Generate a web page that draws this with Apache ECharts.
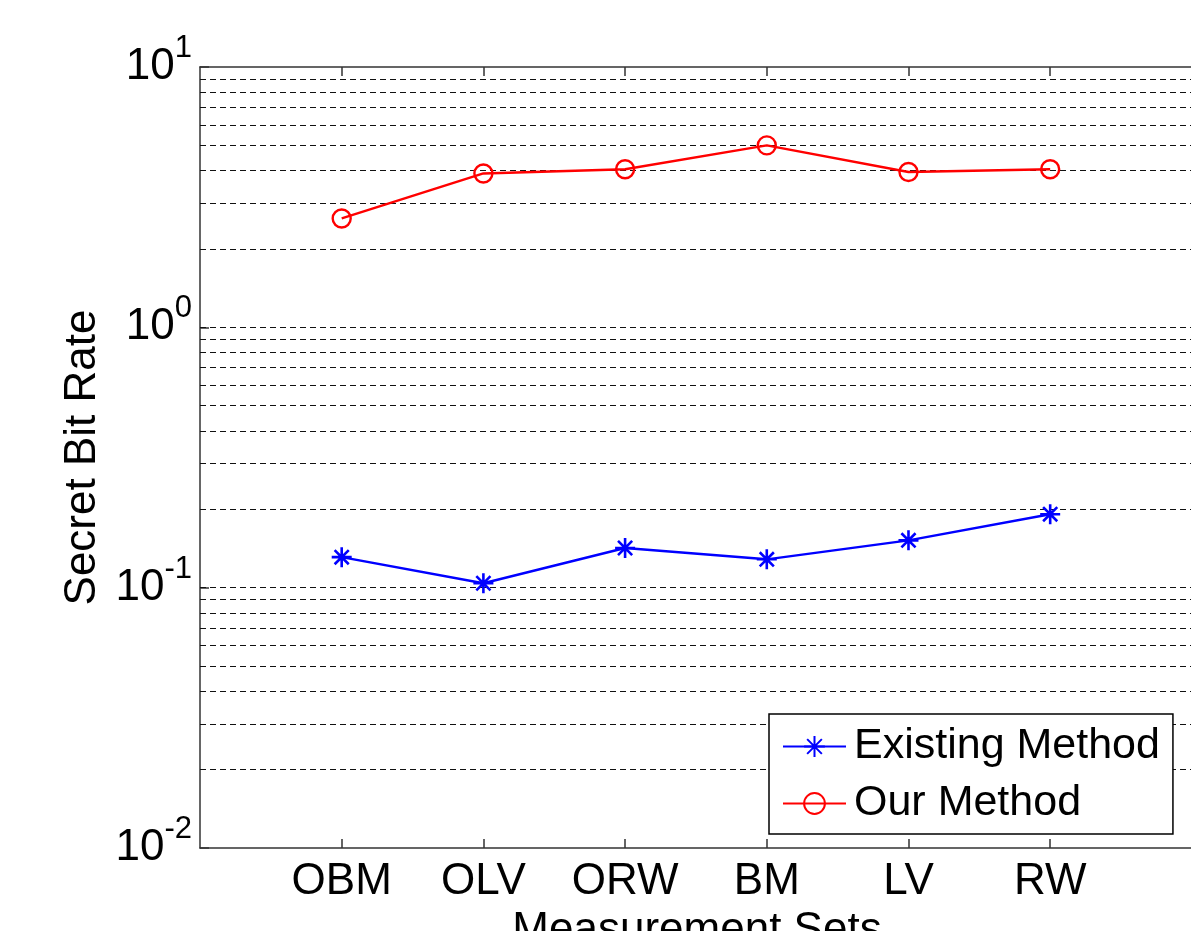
<!DOCTYPE html>
<html>
<head>
<meta charset="utf-8">
<script src="https://cdn.jsdelivr.net/npm/echarts@6/dist/echarts.min.js"></script>
<style>
html,body{margin:0;padding:0;background:#fff;}
#chart{width:1191px;height:931px;}
</style>
</head>
<body>
<div id="chart"></div>
<script>
// ---- data ----
const categories = ['OBM', 'OLV', 'ORW', 'BM', 'LV', 'RW'];
const existingMethod = [0.131, 0.104, 0.142, 0.1285, 0.152, 0.1915];
const ourMethod = [2.62, 3.90, 4.05, 5.00, 3.95, 4.05];
const yTickValues = [0.01, 0.1, 1, 10];
const yTickExponents = ['-2', '-1', '0', '1'];
const gridValues = [0.02, 0.03, 0.04, 0.05, 0.06, 0.07, 0.08, 0.09,
                    0.1, 0.2, 0.3, 0.4, 0.5, 0.6, 0.7, 0.8, 0.9,
                    1, 2, 3, 4, 5, 6, 7, 8, 9];
const seriesNames = ['Existing Method', 'Our Method'];

const FONT = 'Liberation Sans, Arial, Helvetica, sans-serif';
const positions = categories.map((c, i) => i + 1);
const toPairs = arr => arr.map((v, i) => [positions[i], v]);

const asterisk = 'path://M10,0L10,20M0,10L20,10M2.93,2.93L17.07,17.07M2.93,17.07L17.07,2.93';

const chart = echarts.init(document.getElementById('chart'), null, {renderer: 'canvas'});

const option = {
  backgroundColor: '#ffffff',
  animation: false,
  grid: {left: 200, top: 67, width: 994, bottom: 83, containLabel: false, outerBoundsMode: 'none'},
  legend: {
    orient: 'vertical',
    left: 769,
    top: 714,
    padding: [11, 13, 9, 13],
    itemWidth: 63,
    itemHeight: 26,
    itemGap: 14,
    borderColor: '#000',
    borderWidth: 1.5,
    backgroundColor: '#fff',
    textStyle: {fontFamily: FONT, fontSize: 43, color: '#000', padding: [0, 0, 0, 3]},
    data: seriesNames
  },
  xAxis: [{
    type: 'value',
    min: 0,
    max: 7.015,
    position: 'bottom',
    axisLine: {show: true, lineStyle: {color: '#333', width: 1.5}},
    axisTick: {show: true, inside: true, length: 9, customValues: positions, lineStyle: {color: '#333', width: 1.5}},
    axisLabel: {
      show: true, customValues: positions, margin: 12,
      fontFamily: FONT, fontSize: 44, color: '#000',
      formatter: v => categories[Math.round(v) - 1] || ''
    },
    splitLine: {show: false},
    name: 'Measurement Sets',
    nameLocation: 'middle',
    nameGap: 54,
    nameTextStyle: {fontFamily: FONT, fontSize: 44, color: '#000'}
  }, {
    type: 'value',
    min: 0,
    max: 7.015,
    position: 'top',
    axisLine: {show: true, lineStyle: {color: '#333', width: 1.5}},
    axisTick: {show: true, inside: true, length: 9, customValues: positions, lineStyle: {color: '#333', width: 1.5}},
    axisLabel: {show: false},
    splitLine: {show: false}
  }],
  yAxis: {
    type: 'log',
    logBase: 10,
    min: 0.01,
    max: 10,
    position: 'left',
    axisLine: {show: true, lineStyle: {color: '#333', width: 1.5}},
    axisTick: {show: true, inside: true, length: 9, customValues: yTickValues, lineStyle: {color: '#333', width: 1.5}},
    axisLabel: {
      show: true,
      customValues: yTickValues,
      margin: 8,
      formatter: v => {
        const e = Math.round(Math.log10(v));
        const idx = yTickValues.findIndex(t => Math.round(Math.log10(t)) === e);
        return '{b|10}{s|' + (idx >= 0 ? yTickExponents[idx] : String(e)) + '}';
      },
      rich: {
        b: {fontFamily: FONT, fontSize: 44, lineHeight: 68, color: '#000'},
        s: {fontFamily: FONT, fontSize: 31, lineHeight: 31, color: '#000', verticalAlign: 'top'}
      }
    },
    splitLine: {show: false},
    name: 'Secret Bit Rate',
    nameLocation: 'middle',
    nameGap: 90,
    nameRotate: 90,
    nameTextStyle: {fontFamily: FONT, fontSize: 44, color: '#000'}
  },
  series: [{
    name: 'gridlines',
    type: 'line',
    data: [],
    z: 1,
    silent: true,
    markLine: {
      silent: true,
      z: 1,
      symbol: ['none', 'none'],
      label: {show: false},
      lineStyle: {type: [6, 4], color: '#111', width: 1.2},
      emphasis: {disabled: true},
      data: gridValues.map(v => ({yAxis: v}))
    }
  }, {
    name: seriesNames[0],
    type: 'line',
    z: 3,
    data: toPairs(existingMethod),
    symbol: asterisk,
    symbolSize: 20,
    lineStyle: {color: '#0000ff', width: 2.4},
    itemStyle: {color: '#0000ff', borderColor: '#0000ff', borderWidth: 2.6}
  }, {
    name: seriesNames[1],
    type: 'line',
    z: 3,
    data: toPairs(ourMethod),
    symbol: 'circle',
    symbolSize: 18,
    lineStyle: {color: '#ff0000', width: 2.4},
    itemStyle: {color: 'rgba(255,255,255,0)', borderColor: '#ff0000', borderWidth: 2.4}
  }]
};
chart.setOption(option);
</script>
</body>
</html>
